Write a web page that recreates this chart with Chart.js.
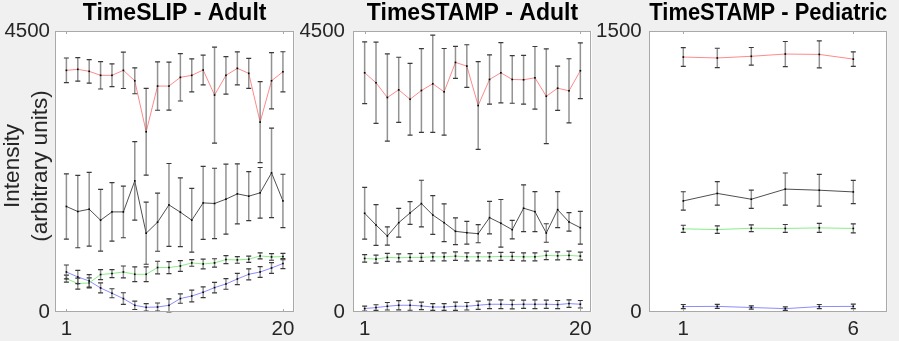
<!DOCTYPE html>
<html>
<head>
<meta charset="utf-8">
<script src="https://cdn.jsdelivr.net/npm/chart.js@4.4.1/dist/chart.umd.min.js"></script>
<style>
  html, body { margin: 0; padding: 0; background: #f0f0f0; }
  #wrap { position: relative; width: 899px; height: 341px; overflow: hidden; }
  canvas { position: absolute; top: 0; }
</style>
</head>
<body>
<div id="wrap">
  <canvas id="c1" width="300" height="341" style="left:0px"></canvas>
  <canvas id="c2" width="305" height="341" style="left:295px"></canvas>
  <canvas id="c3" width="309" height="341" style="left:590px"></canvas>
</div>
<script>
// x positions
var adultX = [1, 2, 3, 4, 5, 6, 7, 8, 9, 10, 11, 12, 13, 14, 15, 16, 17, 18, 19, 20];
var pedX = [1, 2, 3, 4, 5, 6];

// TimeSLIP - Adult
var slipRed = [3870, 3886, 3854, 3790, 3790, 3870, 3703, 2886, 3618, 3618, 3758, 3790, 3875, 3474, 3790, 3902, 3822, 3041, 3703, 3847];
var slipRedErr = [198, 189, 189, 219, 182, 291, 208, 695, 387, 385, 379, 265, 238, 769, 300, 265, 240, 649, 451, 321];
var slipBlack = [1690, 1609, 1646, 1470, 1603, 1603, 2100, 1262, 1438, 1715, 1598, 1470, 1747, 1738, 1807, 1892, 1855, 1908, 2228, 1779];
var slipBlackErr = [523, 580, 591, 495, 468, 414, 628, 497, 465, 663, 551, 511, 585, 564, 561, 481, 393, 406, 718, 427];
var slipGreen = [535, 455, 465, 600, 616, 641, 604, 604, 712, 712, 737, 786, 769, 786, 840, 834, 845, 898, 882, 888];
var slipGreenErr = [56, 88, 80, 80, 64, 96, 118, 118, 101, 96, 85, 53, 77, 67, 64, 53, 51, 48, 53, 51];
var slipBlue = [641, 561, 497, 385, 300, 215, 107, 75, 80, 107, 215, 256, 316, 391, 449, 529, 604, 641, 705, 776];
var slipBlueErr = [112, 107, 100, 80, 72, 93, 67, 59, 64, 104, 75, 93, 85, 85, 85, 91, 88, 85, 85, 80];

// TimeSTAMP - Adult
var stampRed = [3831, 3671, 3435, 3558, 3407, 3547, 3655, 3526, 3997, 3938, 3306, 3724, 3831, 3724, 3719, 3751, 3455, 3584, 3542, 3864];
var stampRedErr = [495, 651, 699, 522, 574, 670, 780, 694, 257, 342, 702, 394, 482, 381, 391, 501, 759, 354, 514, 447];
var stampBlack = [1581, 1393, 1217, 1430, 1586, 1736, 1554, 1430, 1292, 1270, 1254, 1511, 1421, 1318, 1662, 1607, 1265, 1639, 1442, 1350];
var stampBlackErr = [415, 325, 145, 230, 182, 374, 310, 302, 214, 182, 145, 260, 381, 148, 374, 321, 148, 289, 148, 262];
var stampGreen = [858, 847, 874, 868, 874, 874, 884, 884, 895, 884, 884, 884, 890, 890, 884, 884, 906, 900, 906, 895];
var stampGreenErr = [60, 64, 64, 64, 60, 64, 64, 64, 68, 64, 64, 64, 64, 64, 64, 64, 68, 64, 68, 64];
var stampBlue = [55, 71, 92, 108, 108, 97, 80, 80, 92, 92, 108, 124, 124, 119, 124, 124, 124, 119, 135, 124];
var stampBlueErr = [40, 45, 60, 75, 80, 60, 55, 55, 65, 60, 65, 70, 70, 70, 65, 70, 65, 65, 60, 60];

// TimeSTAMP - Pediatric
var pedRed = [1361, 1356, 1365, 1377, 1375, 1350];
var pedRedErr = [50, 52, 47, 67, 72, 39];
var pedBlack = [593, 633, 602, 656, 650, 641];
var pedBlackErr = [49, 63, 49, 86, 85, 62];
var pedGreen = [444, 440, 447, 446, 449, 446];
var pedGreenErr = [19, 20, 18, 21, 24, 24];
var pedBlue = [29, 30, 24, 18, 29, 30];
var pedBlueErr = [11, 11, 9, 9, 11, 12];

// tick labels
var adultXTicks = [1, 20];
var pedXTicks = [1, 6];
var adultYTicks = [0, 4500];
var pedYTicks = [0, 1500];

var FONT = '"Liberation Sans", Arial, Helvetica, sans-serif';
var RED = '#ff8a8a', BLACK = '#505050', GREEN = '#88ee88', BLUE = '#8c8cff';

var panelPlugin = {
  id: 'panel',
  beforeDraw: function (chart) {
    var a = chart.chartArea, ctx = chart.ctx;
    ctx.save();
    ctx.fillStyle = '#ffffff';
    ctx.fillRect(a.left, a.top, a.right - a.left, a.bottom - a.top);
    ctx.restore();
  },
  afterDatasetsDraw: function (chart) {
    var ctx = chart.ctx, ys = chart.scales.y;
    ctx.save();
    chart.data.datasets.forEach(function (ds, i) {
      var meta = chart.getDatasetMeta(i);
      meta.data.forEach(function (pt, j) {
        var v = ds.data[j].y, e = ds.errors[j];
        var top = ys.getPixelForValue(v + e), bot = ys.getPixelForValue(v - e);
        ctx.strokeStyle = 'rgba(100,100,100,0.7)';
        ctx.lineWidth = 1.5;
        ctx.beginPath();
        ctx.moveTo(pt.x, top); ctx.lineTo(pt.x, bot);
        ctx.stroke();
        ctx.strokeStyle = '#3a3a3a';
        ctx.lineWidth = 1.2;
        ctx.beginPath();
        ctx.moveTo(pt.x - 2.5, top); ctx.lineTo(pt.x + 2.5, top);
        ctx.moveTo(pt.x - 2.5, bot); ctx.lineTo(pt.x + 2.5, bot);
        ctx.stroke();
        ctx.fillStyle = '#000000';
        ctx.fillRect(pt.x - 0.8, pt.y - 0.8, 1.6, 1.6);
      });
    });
    ctx.restore();
  },
  afterDraw: function (chart, args, opts) {
    var a = chart.chartArea, ctx = chart.ctx, xs = chart.scales.x;
    ctx.save();
    ctx.strokeStyle = '#a9a9a9';
    ctx.lineWidth = 1;
    ctx.strokeRect(Math.round(a.left) + 0.5, Math.round(a.top) + 0.5,
      Math.round(a.right - a.left) - 1, Math.round(a.bottom - a.top) - 1);
    xs.ticks.forEach(function (t) {
      var px = Math.round(xs.getPixelForValue(t.value)) + 0.5;
      ctx.beginPath();
      ctx.moveTo(px, a.bottom); ctx.lineTo(px, a.bottom - 3);
      ctx.moveTo(px, a.top); ctx.lineTo(px, a.top + 3);
      ctx.stroke();
    });
    if (opts.yLabel) {
      ctx.fillStyle = '#262626';
      ctx.font = '22.5px ' + FONT;
      ctx.textAlign = 'center';
      ctx.textBaseline = 'alphabetic';
      opts.yLabel.forEach(function (line, k) {
        ctx.save();
        ctx.translate(opts.yLabelX[k], opts.yLabelY);
        ctx.rotate(-Math.PI / 2);
        ctx.fillText(line, 0, 0);
        ctx.restore();
      });
    }
    ctx.restore();
  }
};

function makeSeries(xs, values, errors, color) {
  return {
    data: xs.map(function (x, i) { return { x: x, y: values[i] }; }),
    errors: errors,
    borderColor: color,
    borderWidth: 1,
    pointRadius: 0,
    tension: 0,
    fill: false
  };
}

function makePanel(id, title, xs, series, xMax, yMax, xTicks, yTicks, yWidth, yPad, rightPad, yLabel) {
  var tickFont = { family: FONT, size: 20.5 };
  return new Chart(document.getElementById(id), {
    type: 'line',
    data: { datasets: series },
    plugins: [panelPlugin],
    options: {
      responsive: false,
      animation: false,
      events: [],
      layout: { padding: { left: 0, right: rightPad, top: 0, bottom: 0 } },
      plugins: {
        legend: { display: false },
        tooltip: { enabled: false },
        title: {
          display: true,
          text: title,
          fullSize: false,
          color: '#000000',
          font: { family: FONT, size: 23, weight: 'bold', lineHeight: 1 },
          padding: { top: 2.5, bottom: 5.5 }
        },
        panel: yLabel ? { yLabel: yLabel, yLabelX: [19, 47], yLabelY: 166 } : {}
      },
      scales: {
        x: {
          type: 'linear',
          min: 0,
          max: xMax,
          grid: { display: false, drawTicks: false },
          border: { display: false },
          ticks: { font: tickFont, color: '#262626', padding: 5.4, maxRotation: 0, autoSkip: false,
                   callback: function (v) { return String(v); } },
          afterBuildTicks: function (s) { s.ticks = xTicks.map(function (v) { return { value: v }; }); },
          afterFit: function (s) { s.height = 29; }
        },
        y: {
          type: 'linear',
          min: 0,
          max: yMax,
          grid: { display: false, drawTicks: false },
          border: { display: false },
          ticks: { font: tickFont, color: '#262626', padding: yPad, autoSkip: false,
                   callback: function (v) { return String(v); } },
          afterBuildTicks: function (s) { s.ticks = yTicks.map(function (v) { return { value: v }; }); },
          afterFit: function (s) { s.width = yWidth; }
        }
      }
    }
  });
}

makePanel('c1', 'TimeSLIP - Adult', adultX, [
  makeSeries(adultX, slipRed, slipRedErr, RED),
  makeSeries(adultX, slipBlack, slipBlackErr, BLACK),
  makeSeries(adultX, slipGreen, slipGreenErr, GREEN),
  makeSeries(adultX, slipBlue, slipBlueErr, BLUE)
], 21, 4500, adultXTicks, adultYTicks, 55, 5, 5, ['Intensity', '(arbitrary units)']);

makePanel('c2', 'TimeSTAMP - Adult', adultX, [
  makeSeries(adultX, stampRed, stampRedErr, RED),
  makeSeries(adultX, stampBlack, stampBlackErr, BLACK),
  makeSeries(adultX, stampGreen, stampGreenErr, GREEN),
  makeSeries(adultX, stampBlue, stampBlueErr, BLUE)
], 21, 4500, adultXTicks, adultYTicks, 58.3, 8.3, 8.3, null);

makePanel('c3', 'TimeSTAMP - Pediatric', pedX, [
  makeSeries(pedX, pedRed, pedRedErr, RED),
  makeSeries(pedX, pedBlack, pedBlackErr, BLACK),
  makeSeries(pedX, pedGreen, pedGreenErr, GREEN),
  makeSeries(pedX, pedBlue, pedBlueErr, BLUE)
], 7, 1500, pedXTicks, pedYTicks, 59.3, 7.6, 11.7, null);
</script>
</body>
</html>
